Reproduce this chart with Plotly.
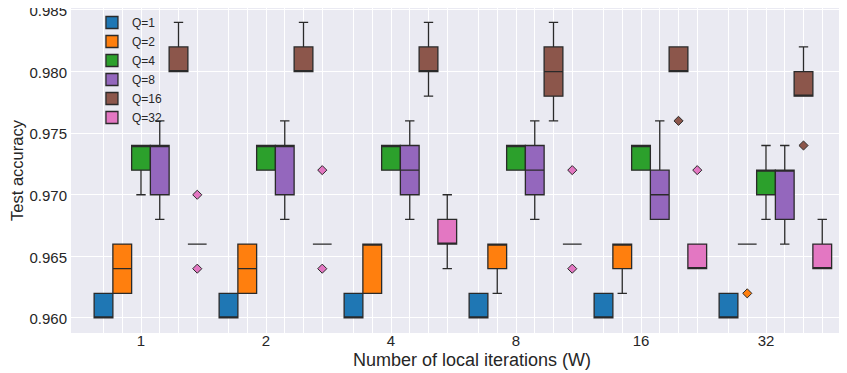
import plotly.graph_objects as go

W_labels = ["1", "2", "4", "8", "16", "32"]
Q_labels = ["Q=1", "Q=2", "Q=4", "Q=8", "Q=16", "Q=32"]
colors = ["#1f77b4", "#ff7f0e", "#2ca02c", "#9467bd", "#8c564b", "#e377c2"]

# box statistics per Q (each list runs over W = 1, 2, 4, 8, 16, 32)
q1_Q1 = [0.960, 0.960, 0.960, 0.960, 0.960, 0.960]
med_Q1 = [0.960, 0.960, 0.960, 0.960, 0.960, 0.960]
q3_Q1 = [0.962, 0.962, 0.962, 0.962, 0.962, 0.962]
lo_Q1 = [0.960, 0.960, 0.960, 0.960, 0.960, 0.960]
hi_Q1 = [0.962, 0.962, 0.962, 0.962, 0.962, 0.962]

q1_Q2 = [0.962, 0.962, 0.962, 0.964, 0.964, 0.966]
med_Q2 = [0.964, 0.964, 0.966, 0.966, 0.966, 0.966]
q3_Q2 = [0.966, 0.966, 0.966, 0.966, 0.966, 0.966]
lo_Q2 = [0.962, 0.962, 0.962, 0.962, 0.962, 0.966]
hi_Q2 = [0.966, 0.966, 0.966, 0.966, 0.966, 0.966]

q1_Q4 = [0.972, 0.972, 0.972, 0.972, 0.972, 0.970]
med_Q4 = [0.974, 0.974, 0.974, 0.974, 0.974, 0.972]
q3_Q4 = [0.974, 0.974, 0.974, 0.974, 0.974, 0.972]
lo_Q4 = [0.970, 0.972, 0.972, 0.972, 0.972, 0.968]
hi_Q4 = [0.974, 0.974, 0.974, 0.974, 0.974, 0.974]

q1_Q8 = [0.970, 0.970, 0.970, 0.970, 0.968, 0.968]
med_Q8 = [0.974, 0.974, 0.972, 0.972, 0.970, 0.972]
q3_Q8 = [0.974, 0.974, 0.974, 0.974, 0.972, 0.972]
lo_Q8 = [0.968, 0.968, 0.968, 0.968, 0.968, 0.966]
hi_Q8 = [0.976, 0.976, 0.976, 0.976, 0.976, 0.974]

q1_Q16 = [0.980, 0.980, 0.980, 0.978, 0.980, 0.978]
med_Q16 = [0.980, 0.980, 0.980, 0.980, 0.980, 0.978]
q3_Q16 = [0.982, 0.982, 0.982, 0.982, 0.982, 0.980]
lo_Q16 = [0.980, 0.980, 0.978, 0.976, 0.980, 0.978]
hi_Q16 = [0.984, 0.984, 0.984, 0.984, 0.982, 0.982]

q1_Q32 = [0.966, 0.966, 0.966, 0.966, 0.964, 0.964]
med_Q32 = [0.966, 0.966, 0.966, 0.966, 0.964, 0.964]
q3_Q32 = [0.966, 0.966, 0.968, 0.966, 0.966, 0.966]
lo_Q32 = [0.966, 0.966, 0.964, 0.966, 0.964, 0.964]
hi_Q32 = [0.966, 0.966, 0.970, 0.966, 0.966, 0.968]

# outliers: W index, Q index, value
flier_w = [0, 0, 1, 1, 3, 3, 4, 4, 5, 5]
flier_q = [5, 5, 5, 5, 5, 5, 4, 5, 1, 4]
flier_v = [0.970, 0.964, 0.972, 0.964, 0.972, 0.964, 0.976, 0.972, 0.962, 0.974]

stats = [
    (q1_Q1, med_Q1, q3_Q1, lo_Q1, hi_Q1),
    (q1_Q2, med_Q2, q3_Q2, lo_Q2, hi_Q2),
    (q1_Q4, med_Q4, q3_Q4, lo_Q4, hi_Q4),
    (q1_Q8, med_Q8, q3_Q8, lo_Q8, hi_Q8),
    (q1_Q16, med_Q16, q3_Q16, lo_Q16, hi_Q16),
    (q1_Q32, med_Q32, q3_Q32, lo_Q32, hi_Q32),
]

BW = 0.15  # box width in group units
def pos(wi, qi):
    return wi + (qi - 2) * BW

fig = go.Figure()
for qi, (q1, med, q3, lo, hi) in enumerate(stats):
    fig.add_trace(go.Box(
        x=[pos(wi, qi) for wi in range(len(W_labels))],
        q1=q1, median=med, q3=q3, lowerfence=lo, upperfence=hi,
        name=Q_labels[qi], width=BW, whiskerwidth=0.5,
        fillcolor=colors[qi], line=dict(color="#2a2a2a", width=1.3),
        boxpoints=False, hoverinfo="skip",
    ))

for qi in range(len(Q_labels)):
    xs = [pos(w, q) for w, q in zip(flier_w, flier_q) if q == qi]
    ys = [v for v, q in zip(flier_v, flier_q) if q == qi]
    if xs:
        fig.add_trace(go.Scatter(
            x=xs, y=ys, mode="markers", showlegend=False, hoverinfo="skip",
            marker=dict(symbol="diamond", size=7, color=colors[qi],
                        line=dict(color="#2a2a2a", width=1)),
        ))

minor_vals = [pos(wi, qi) for wi in range(len(W_labels)) for qi in range(len(Q_labels))]

font_family = "Liberation Sans, Arial, sans-serif"
fig.update_layout(
    width=839, height=365,
    margin=dict(l=63, r=0, t=0, b=40),
    paper_bgcolor="white", plot_bgcolor="#EAEAF2",
    font=dict(family=font_family, color="#262626", size=14),
    boxmode="overlay",
    legend=dict(x=0.027, y=1.0, xanchor="left", yanchor="top",
                bgcolor="rgba(0,0,0,0)", font=dict(size=12),
                tracegroupgap=0),
    xaxis=dict(
        range=[-0.56, 5.648], automargin=False,
        tickvals=list(range(len(W_labels))), ticktext=W_labels,
        showgrid=True, gridcolor="white", gridwidth=1,
        zeroline=False, showline=False, ticks="", ticklen=0,
        ticklabelstandoff=-3,
        tickfont=dict(size=15),
        minor=dict(tickvals=minor_vals, showgrid=True, gridcolor="white", gridwidth=1),
    ),
    yaxis=dict(
        range=[0.95878, 0.98516], automargin=False,
        tickvals=[0.960, 0.965, 0.970, 0.975, 0.980, 0.985],
        tickformat=".3f",
        showgrid=True, gridcolor="white", gridwidth=1,
        zeroline=False, showline=False, ticks="", ticklen=0,
        ticklabelstandoff=3, ticklabelshift=1, ticklabeloverflow="allow",
        tickfont=dict(size=15),
        title=dict(text="Test accuracy", font=dict(size=16.5)),
    ),
    annotations=[dict(
        text="Number of local iterations (W)", xref="paper", yref="paper",
        x=0.5164, y=-0.083, xanchor="center", yanchor="middle",
        showarrow=False, font=dict(size=18),
    )],
)

fig.write_html("out.html")
